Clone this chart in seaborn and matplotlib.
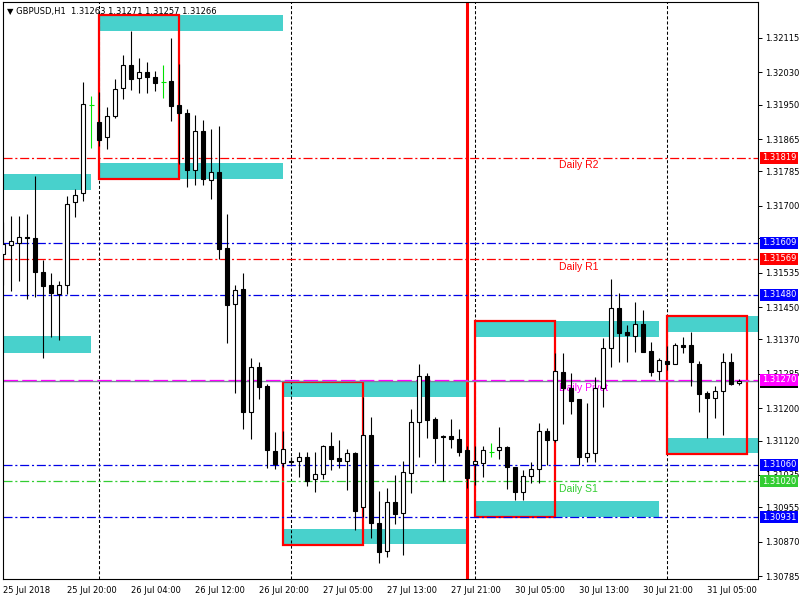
import numpy as np
import seaborn as sns
import matplotlib
matplotlib.use('Agg')
import matplotlib.pyplot as plt
from matplotlib.patches import Rectangle
import matplotlib.transforms as mtransforms

# GBPUSD H1 bars (one per hour, index = bar number)
opens = [1.31581, 1.31603, 1.31608, 1.31623, 1.31621, 1.31537, 1.31504, 1.31482, 1.31504, 1.31710,
         1.31732, 1.31949, 1.31907, 1.31870, 1.31922, 1.31991, 1.32048, 1.32016, 1.32031, 1.32019,
         1.32006, 1.32009, 1.31949, 1.31930, 1.31789, 1.31885, 1.31764, 1.31784, 1.31596, 1.31457,
         1.31495, 1.31191, 1.31302, 1.31255, 1.31094, 1.31064, 1.31069, 1.31069, 1.31079, 1.31025,
         1.31037, 1.31106, 1.31077, 1.31069, 1.31089, 1.30956, 1.31134, 1.30916, 1.30847, 1.30968,
         1.30941, 1.31040, 1.31166, 1.31280, 1.31173, 1.31131, 1.31131, 1.31124, 1.31097, 1.31062,
         1.31064, 1.31092, 1.31097, 1.31104, 1.31054, 1.30993, 1.31032, 1.31050, 1.31144, 1.31121,
         1.31289, 1.31250, 1.31223, 1.31079, 1.31089, 1.31250, 1.31349, 1.31448, 1.31388, 1.31378,
         1.31408, 1.31341, 1.31292, 1.31317, 1.31310, 1.31356, 1.31356, 1.31310, 1.31237, 1.31226,
         1.31242, 1.31314, 1.31263]
highs = [1.31660, 1.31675, 1.31675, 1.31680, 1.31774, 1.31566, 1.31534, 1.31514, 1.31724, 1.31742,
         1.32006, 1.31972, 1.31982, 1.31944, 1.32014, 1.32073, 1.32132, 1.32066, 1.32056, 1.32033,
         1.32048, 1.32115, 1.32051, 1.31940, 1.31925, 1.31912, 1.31890, 1.31898, 1.31680, 1.31504,
         1.31534, 1.31324, 1.31314, 1.31260, 1.31141, 1.31144, 1.31079, 1.31092, 1.31092, 1.31092,
         1.31109, 1.31141, 1.31121, 1.31099, 1.31092, 1.31228, 1.31178, 1.30995, 1.31003, 1.31035,
         1.31069, 1.31198, 1.31309, 1.31287, 1.31178, 1.31134, 1.31173, 1.31148, 1.31106, 1.31106,
         1.31106, 1.31114, 1.31153, 1.31106, 1.31054, 1.31047, 1.31067, 1.31163, 1.31151, 1.31336,
         1.31336, 1.31287, 1.31223, 1.31213, 1.31277, 1.31373, 1.31519, 1.31485, 1.31406, 1.31462,
         1.31443, 1.31363, 1.31324, 1.31354, 1.31361, 1.31376, 1.31388, 1.31317, 1.31242, 1.31255,
         1.31336, 1.31336, 1.31271]
lows = [1.31504, 1.31490, 1.31514, 1.31470, 1.31475, 1.31324, 1.31376, 1.31368, 1.31482, 1.31673,
        1.31712, 1.31843, 1.31848, 1.31841, 1.31917, 1.31964, 1.31986, 1.31979, 1.31979, 1.31984,
        1.31967, 1.31910, 1.31804, 1.31747, 1.31752, 1.31752, 1.31717, 1.31569, 1.31361, 1.31237,
        1.31148, 1.31124, 1.31223, 1.31052, 1.31050, 1.31054, 1.31059, 1.31030, 1.31007, 1.30993,
        1.31025, 1.31047, 1.31052, 1.30998, 1.30898, 1.30931, 1.30879, 1.30817, 1.30832, 1.30914,
        1.30837, 1.30990, 1.31079, 1.31126, 1.31064, 1.31020, 1.31102, 1.31082, 1.31003, 1.31010,
        1.31030, 1.31079, 1.31074, 1.31000, 1.30973, 1.30973, 1.31015, 1.31015, 1.31059, 1.31116,
        1.31161, 1.31186, 1.31059, 1.31067, 1.31067, 1.31203, 1.31302, 1.31314, 1.31314, 1.31339,
        1.31339, 1.31280, 1.31270, 1.31294, 1.31310, 1.31336, 1.31255, 1.31191, 1.31126, 1.31176,
        1.31134, 1.31257, 1.31257]
closes = [1.31606, 1.31613, 1.31623, 1.31621, 1.31537, 1.31502, 1.31485, 1.31504, 1.31705, 1.31727,
          1.31952, 1.31949, 1.31863, 1.31922, 1.31989, 1.32048, 1.32014, 1.32031, 1.32019, 1.32004,
          1.32006, 1.31947, 1.31930, 1.31789, 1.31885, 1.31766, 1.31784, 1.31593, 1.31455, 1.31492,
          1.31191, 1.31302, 1.31252, 1.31097, 1.31062, 1.31099, 1.31067, 1.31079, 1.31020, 1.31037,
          1.31106, 1.31074, 1.31069, 1.31089, 1.30946, 1.31134, 1.30916, 1.30844, 1.30968, 1.30938,
          1.31042, 1.31166, 1.31280, 1.31171, 1.31126, 1.31129, 1.31124, 1.31092, 1.31027, 1.31069,
          1.31097, 1.31092, 1.31104, 1.31054, 1.30993, 1.31032, 1.31050, 1.31144, 1.31121, 1.31292,
          1.31250, 1.31218, 1.31079, 1.31089, 1.31250, 1.31349, 1.31448, 1.31386, 1.31381, 1.31408,
          1.31339, 1.31289, 1.31319, 1.31310, 1.31356, 1.31351, 1.31314, 1.31235, 1.31226, 1.31242,
          1.31314, 1.31260, 1.31266]

# time axis
xtick_bars = [0, 8, 16, 24, 32, 40, 48, 56, 64, 72, 80, 88]
xtick_labels = ['25 Jul 2018', '25 Jul 20:00', '26 Jul 04:00', '26 Jul 12:00', '26 Jul 20:00',
                '27 Jul 05:00', '27 Jul 13:00', '27 Jul 21:00', '30 Jul 05:00', '30 Jul 13:00',
                '30 Jul 21:00', '31 Jul 05:00']
separators = [12, 36, 59, 83]
marker_bar = 58

# price axis (1.31620 is hidden behind the 1.31609 mark)
ytick_values = [1.32115, 1.32030, 1.31950, 1.31865, 1.31785, 1.31700, 1.31620, 1.31535, 1.31450,
                1.31370, 1.31285, 1.31200, 1.31120, 1.31035, 1.30955, 1.30870, 1.30785]
hidden_ticks = [1.31620]

# daily pivot levels
pivot_names = ['Daily R2', 'Daily R1', 'Daily Pivot', 'Daily S1']
pivot_values = [1.31819, 1.31569, 1.31270, 1.31020]
pivot_colors = ['red', 'red', '#ff00ff', '#32cd32']
blue_levels = [1.31609, 1.31480, 1.31060, 1.30931]
bid = 1.31266

# zones: (first bar, last bar, low, high)
zone_start = [12, 12, -1, -1, 35, 35, 59, 59, 83, 83]
zone_end = [35, 35, 11, 11, 58, 58, 82, 82, 96, 96]
zone_low = [1.32132, 1.31766, 1.31739, 1.31336, 1.31228, 1.30864, 1.31376, 1.30931, 1.31388, 1.31089]
zone_high = [1.32172, 1.31806, 1.31779, 1.31378, 1.31265, 1.30901, 1.31415, 1.30970, 1.31428, 1.31126]

box_start = [12, 35, 59, 83]
box_end = [22, 45, 69, 93]
box_low = [1.31766, 1.30862, 1.30931, 1.31087]
box_high = [1.32172, 1.31265, 1.31415, 1.31428]

sns.set_style("white")
plt.rcParams['font.family'] = ['DejaVu Sans']
plt.rcParams['lines.scale_dashes'] = False

fig = plt.figure(figsize=(8, 6), dpi=100)
ax = fig.add_axes([0.0034, 0.035, 0.94375, 0.9612])

# zones
for s, e, lo, hi in zip(zone_start, zone_end, zone_low, zone_high):
    ax.add_patch(Rectangle((s, lo), e - s, hi - lo, facecolor='#48d1cc', edgecolor='none', zorder=1))
for s, e, lo, hi in zip(box_start, box_end, box_low, box_high):
    ax.add_patch(Rectangle((s, lo), e - s, hi - lo, fill=False, edgecolor='red', linewidth=1.6, zorder=2))

# separators
for s in separators:
    ax.axvline(s, color='black', linewidth=0.75, linestyle=(0, (2.2, 1.5)), zorder=1.5)
ax.axvline(marker_bar, color='red', linewidth=2.2, zorder=2)

# levels
dashdot = (0, (6.5, 2, 1.5, 2))
for lv in blue_levels:
    ax.axhline(lv, color='#0000e6', linewidth=0.9, linestyle=dashdot, zorder=2)
ax.axhline(bid, color='#778899', linewidth=1.0, zorder=2)
for name, lv, col in zip(pivot_names, pivot_values, pivot_colors):
    ls = (0, (10.5, 3)) if name == 'Daily Pivot' else dashdot
    ax.axhline(lv, color=col, linewidth=0.9, linestyle=ls, zorder=2.1)
    ax.annotate(name, xy=(69.4, lv), xytext=(0, -2), textcoords='offset points',
                color=col, fontsize=7.5, family=['Liberation Sans'], va='top', ha='left', zorder=2.2)

# candles
o = np.array(opens)
h = np.array(highs)
l = np.array(lows)
c = np.array(closes)
x = np.arange(len(o))
doji = o == c
up = (c > o) & ~doji
down = (c < o) & ~doji
ax.vlines(x[~doji], l[~doji], h[~doji], color='black', linewidth=0.8, zorder=3)
bottom = np.minimum(o, c)
height = np.maximum(np.abs(c - o), 0.000008)
ax.bar(x[up], height[up], bottom=bottom[up], width=0.5, color='white', edgecolor='black',
       linewidth=0.8, zorder=4)
ax.bar(x[down], height[down], bottom=bottom[down], width=0.5, color='black', edgecolor='black',
       linewidth=0.8, zorder=4)
ax.vlines(x[doji], l[doji], h[doji], color='#00e000', linewidth=0.8, zorder=3)
ax.hlines(o[doji], x[doji] - 0.3, x[doji] + 0.3, color='#00e000', linewidth=0.8, zorder=3)

ax.set_xlim(-0.08, 94.3)
ax.set_ylim(1.30778, 1.32203)

ax.yaxis.tick_right()
ax.set_yticks(ytick_values)
ax.set_yticklabels(['' if v in hidden_ticks else '%.5f' % v for v in ytick_values])
ax.set_xticks(xtick_bars)
ax.set_xticklabels(xtick_labels)
plt.setp(ax.get_xticklabels(), ha='left')
ax.tick_params(axis='y', direction='out', length=3, width=0.7, labelsize=6, pad=2, colors='black')
ax.tick_params(axis='x', direction='out', length=3, width=0.7, labelsize=6, pad=2, colors='black')
for sp in ax.spines.values():
    sp.set_color('black')
    sp.set_linewidth(0.8)

# price marks on the axis
mark_values = [1.31819, 1.31609, 1.31569, 1.31480, bid, 1.31270, 1.31060, 1.31020, 1.30931]
mark_colors = ['red', '#0000ff', 'red', '#0000ff', 'black', '#ff00ff', '#0000ff', '#32cd32', '#0000ff']
trans = mtransforms.blended_transform_factory(ax.transAxes, ax.transData)
for i, (v, col) in enumerate(zip(mark_values, mark_colors)):
    ax.text(1.0057, v, '%.5f' % v, transform=trans, color='white', fontsize=6, va='center', ha='left',
            bbox=dict(boxstyle='square,pad=0.2', facecolor=col, edgecolor='none'),
            clip_on=False, zorder=10 + i)

ax.text(0.006, 0.9845, '\u25bc GBPUSD,H1  1.31263 1.31271 1.31257 1.31266', transform=ax.transAxes,
        fontsize=6, va='center', ha='left', color='black', zorder=12)

fig.savefig('out.png', dpi=100)
